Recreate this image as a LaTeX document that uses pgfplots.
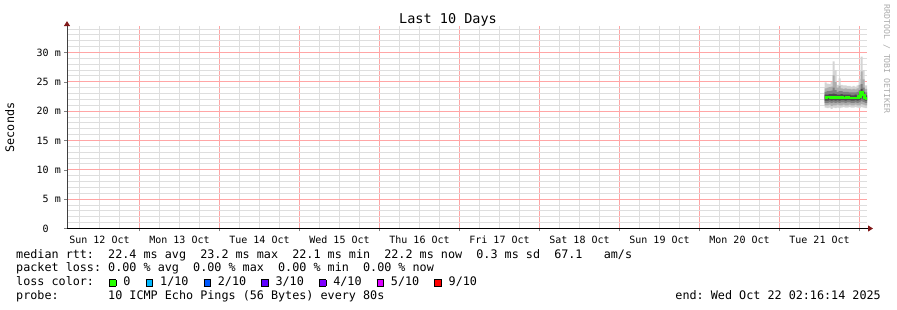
\documentclass[border=0pt]{standalone}
\usepackage{fontspec}
\setmainfont{DejaVu Sans Mono}
\usepackage{pgfplots}
\pgfplotsset{compat=1.18}
\usepackage{pgfplotstable}
\usepgfplotslibrary{fillbetween}
\usetikzlibrary{arrows.meta}
\frenchspacing

\definecolor{mgrid}{RGB}{255,165,165}
\definecolor{sgrid}{RGB}{222,222,222}
\definecolor{arrowc}{RGB}{128,24,24}
\definecolor{loss0}{RGB}{38,255,0}
\definecolor{loss1}{RGB}{0,184,255}
\definecolor{loss2}{RGB}{0,89,255}
\definecolor{loss3}{RGB}{94,0,255}
\definecolor{loss4}{RGB}{126,0,255}
\definecolor{loss5}{RGB}{221,0,255}
\definecolor{loss9}{RGB}{255,0,0}

\newcommand\legfont{\fontsize{11.76bp}{13bp}\selectfont}
\newcommand\tickfont{\fontsize{10bp}{11bp}\selectfont}
\newcommand\titlefont{\fontsize{13.5bp}{15bp}\selectfont}
\newcommand\wmfont{\fontsize{8.2bp}{9bp}\selectfont}
\newcommand\sq[1]{{\setlength\fboxsep{0pt}\setlength\fboxrule{0.7bp}\fcolorbox{black}{#1}{\rule{0pt}{5.8bp}\rule{5.8bp}{0pt}}}}

\pgfplotstableread{
t lo1 lo2 lo3 lo4 med hi4 hi3 hi2 hi1
9.5625 20.6 21.0 21.4 21.8 22.3 22.8 23.3 23.9 24.9
9.5875 20.5 21.0 21.4 21.8 22.4 22.8 23.4 24.0 24.7
9.6125 20.6 21.1 21.5 21.9 22.4 22.9 23.4 24.1 24.6
9.6375 20.4 20.9 21.4 21.8 22.3 22.9 23.5 24.2 25.0
9.6625 20.6 21.0 21.5 21.9 22.4 23.0 24.0 26.1 28.5
9.6875 20.5 21.0 21.4 21.8 22.2 22.9 23.6 25.0 27.0
9.7125 20.6 21.1 21.5 21.9 22.4 22.8 23.3 24.0 24.5
9.7375 20.5 21.0 21.4 21.8 22.2 22.8 23.4 24.3 25.6
9.7625 20.6 21.0 21.5 21.9 22.4 22.9 23.4 23.9 24.5
9.7875 20.7 21.1 21.5 21.9 22.3 22.8 23.3 23.8 24.4
9.8125 20.6 21.0 21.4 21.8 22.3 22.8 23.3 23.9 24.4
9.8375 20.6 21.0 21.5 21.9 22.4 22.8 23.3 23.8 24.3
9.8625 20.7 21.1 21.5 21.9 22.3 22.8 23.2 23.8 24.3
9.8875 20.6 21.0 21.4 21.8 22.3 22.7 23.2 23.7 24.2
9.9125 20.6 21.0 21.4 21.8 22.2 22.7 23.2 23.8 24.3
9.9375 20.7 21.1 21.5 21.9 22.3 22.8 23.2 23.7 24.2
9.9625 20.6 21.0 21.4 21.8 22.2 22.7 23.3 23.9 24.4
9.9875 20.5 21.0 21.5 21.9 22.5 23.0 23.6 24.5 25.5
10.0125 20.7 21.2 21.7 22.2 23.2 23.8 24.6 26.8 29.3
10.0375 20.6 21.1 21.6 22.0 22.8 23.3 24.0 25.4 27.0
10.0625 20.5 21.0 21.4 21.8 22.2 22.7 23.2 23.8 24.4
10.0875 20.5 21.0 21.4 21.8 22.1 22.7 23.2 23.8 24.4
10.09375 20.5 21.0 21.4 21.8 22.1 22.7 23.2 23.8 24.4
}\smoke

\begin{document}
\begin{tikzpicture}
\begin{axis}[
  at={(67bp,81.5bp)}, anchor=south west, scale only axis,
  width=800bp, height=202.4bp,
  xmin=0.09375, xmax=10.09375, ymin=0, ymax=34.5,
  axis lines*=left,
  x axis line style={black, line width=1bp, shorten >=-6bp, -{Triangle[length=5bp,width=6bp,color=arrowc,fill=arrowc]}},
  y axis line style={black!75, line width=1bp, shorten >=-5bp, -{Triangle[length=5bp,width=6bp,color=arrowc,fill=arrowc]}},
  xtick={1,2,...,10}, xticklabels={},
  minor xtick={0.25,0.5,0.75,1.25,1.5,1.75,2.25,2.5,2.75,3.25,3.5,3.75,4.25,4.5,4.75,5.25,5.5,5.75,6.25,6.5,6.75,7.25,7.5,7.75,8.25,8.5,8.75,9.25,9.5,9.75},
  extra x ticks={0.5,1.5,2.5,3.5,4.5,5.5,6.5,7.5,8.5,9.5},
  extra x tick labels={Sun 12 Oct,Mon 13 Oct,Tue 14 Oct,Wed 15 Oct,Thu 16 Oct,Fri 17 Oct,Sat 18 Oct,Sun 19 Oct,Mon 20 Oct,Tue 21 Oct},
  extra x tick style={grid=none, major tick length=0pt},
  ytick={0,5,10,15,20,25,30},
  yticklabels={\mbox{0\hphantom{~m}},\mbox{5~m},\mbox{10~m},\mbox{15~m},\mbox{20~m},\mbox{25~m},\mbox{30~m}},
  minor ytick={1,2,3,4,6,7,8,9,11,12,13,14,16,17,18,19,21,22,23,24,26,27,28,29,31,32,33,34},
  tick align=outside, major tick length=3bp, minor tick length=0pt,
  grid=both,
  every major grid/.style={draw=mgrid, line width=1bp},
  every minor grid/.style={draw=sgrid, line width=1bp},
  ticklabel style={font=\tickfont},
  yticklabel style={inner sep=0pt, xshift=-3bp},
  xticklabel style={inner sep=0pt, anchor=north, yshift=-7.5bp, text height=7.3bp, text depth=0pt},
]
\addplot[const plot, draw=none, name path=h1] table[x=t,y=hi1]{\smoke};
\addplot[const plot, draw=none, name path=l1] table[x=t,y=lo1]{\smoke};
\addplot[const plot, draw=none, name path=h2] table[x=t,y=hi2]{\smoke};
\addplot[const plot, draw=none, name path=l2] table[x=t,y=lo2]{\smoke};
\addplot[const plot, draw=none, name path=h3] table[x=t,y=hi3]{\smoke};
\addplot[const plot, draw=none, name path=l3] table[x=t,y=lo3]{\smoke};
\addplot[const plot, draw=none, name path=h4] table[x=t,y=hi4]{\smoke};
\addplot[const plot, draw=none, name path=l4] table[x=t,y=lo4]{\smoke};
\addplot[fill=black!17, draw=none] fill between[of=h1 and l1];
\addplot[fill=black!32, draw=none] fill between[of=h2 and l2];
\addplot[fill=black!50, draw=none] fill between[of=h3 and l3];
\addplot[fill=black!70, draw=none] fill between[of=h4 and l4];
\addplot[const plot, loss0, line width=2.2bp] table[x=t,y=med]{\smoke};
\end{axis}
\node[font=\titlefont, anchor=base, inner sep=0pt] at (448bp,286bp) {Last 10 Days};
\node[font=\legfont, anchor=base, rotate=90, inner sep=0pt] at (14bp,182.5bp) {Seconds};
\node[font=\wmfont, anchor=base, rotate=-90, inner sep=0pt, text=black!33] at (884bp,251bp) {RRDTOOL / TOBI OETIKER};
\node[font=\legfont, anchor=base west, inner sep=0pt] at (16bp,51.8bp) {median rtt:~~22.4 ms avg~~23.2 ms max~~22.1 ms min~~22.2 ms now~~0.3 ms sd~~67.1~~~am/s};
\node[font=\legfont, anchor=base west, inner sep=0pt] at (16bp,38.1bp) {packet loss:~0.00 \% avg~~0.00 \% max~~0.00 \% min~~0.00 \% now};
\node[font=\legfont, anchor=base west, inner sep=0pt] at (16bp,24.2bp) {loss color:};
\node[font=\legfont, anchor=base west, inner sep=0pt] at (109bp,24.2bp) {\sq{loss0}~0};
\node[font=\legfont, anchor=base west, inner sep=0pt] at (145.7bp,24.2bp) {\sq{loss1}~1/10};
\node[font=\legfont, anchor=base west, inner sep=0pt] at (203.4bp,24.2bp) {\sq{loss2}~2/10};
\node[font=\legfont, anchor=base west, inner sep=0pt] at (261.1bp,24.2bp) {\sq{loss3}~3/10};
\node[font=\legfont, anchor=base west, inner sep=0pt] at (318.8bp,24.2bp) {\sq{loss4}~4/10};
\node[font=\legfont, anchor=base west, inner sep=0pt] at (376.5bp,24.2bp) {\sq{loss5}~5/10};
\node[font=\legfont, anchor=base west, inner sep=0pt] at (434.2bp,24.2bp) {\sq{loss9}~9/10};
\node[font=\legfont, anchor=base west, inner sep=0pt] at (16bp,10.4bp) {probe:~~~~~~~10 ICMP Echo Pings (56 Bytes) every 80s};
\node[font=\legfont, anchor=base east, inner sep=0pt] at (881bp,10.4bp) {end: Wed Oct 22 02:16:14 2025};
\pgfresetboundingbox
\useasboundingbox (0,0) rectangle (897bp,310bp);
\end{tikzpicture}
\end{document}
